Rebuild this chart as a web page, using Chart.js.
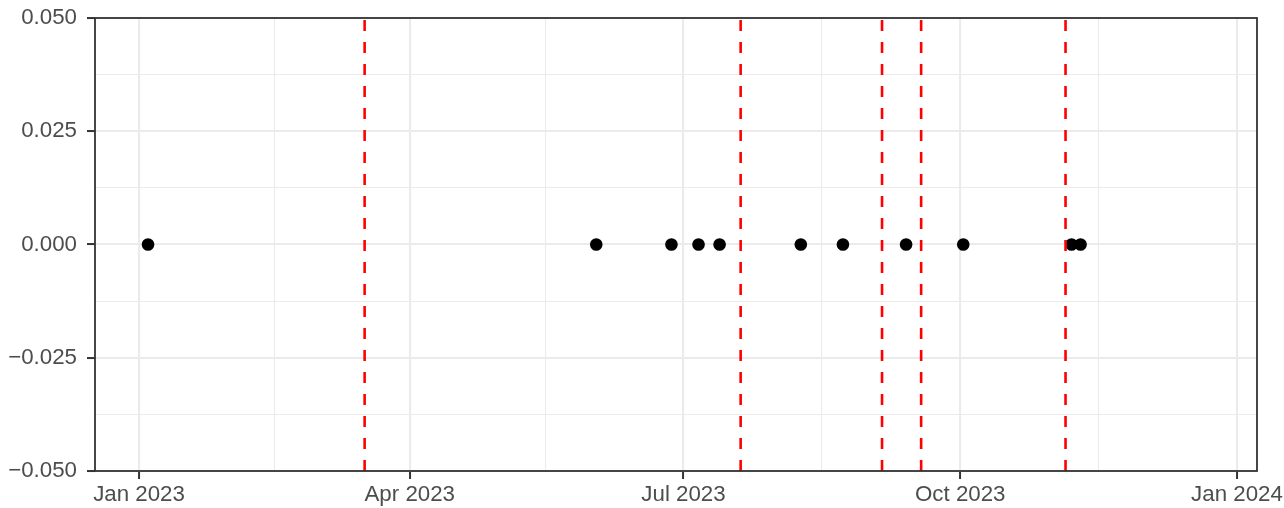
<!DOCTYPE html>
<html>
<head>
<meta charset="utf-8">
<script src="https://cdn.jsdelivr.net/npm/chart.js@4/dist/chart.umd.min.js"></script>
<style>
  html, body { margin: 0; padding: 0; background: #ffffff; }
  #wrap { width: 1284px; height: 508px; position: relative; }
</style>
</head>
<body>
<div id="wrap"><canvas id="c" width="1284" height="508"></canvas></div>
<script>
// ---- data ----
const eventDates = ['2023-01-04','2023-06-02','2023-06-27','2023-07-06','2023-07-13','2023-08-09','2023-08-23','2023-09-13','2023-10-02','2023-11-07','2023-11-10'];
const eventValues = [0, 0, 0, 0, 0, 0, 0, 0, 0, 0, 0];
const changeDates = ['2023-03-17','2023-07-20','2023-09-05','2023-09-18','2023-11-05'];
const xTickDates = ['2023-01-01','2023-04-01','2023-07-01','2023-10-01','2024-01-01'];
const xTickLabels = ['Jan 2023','Apr 2023','Jul 2023','Oct 2023','Jan 2024'];
const xMinorDates = ['2023-02-15','2023-05-16','2023-08-16','2023-11-16'];
const yTicks = [-0.05, -0.025, 0, 0.025, 0.05];
const yTickLabels = ['\u22120.050','\u22120.025','0.000','0.025','0.050'];
const yMinorTicks = [-0.0375, -0.0125, 0.0125, 0.0375];
const xLimits = ['2022-12-17','2024-01-07'];
const yLimits = [-0.05, 0.05];

// ---- helpers ----
const DAY = 86400000;
const ORIGIN = Date.UTC(2023, 0, 1);
function toDay(s) {
  const [y, m, d] = s.split('-').map(Number);
  return (Date.UTC(y, m - 1, d) - ORIGIN) / DAY;
}
const xMajor = xTickDates.map(toDay);
const xMinor = xMinorDates.map(toDay);
const isMajorX = v => xMajor.some(t => Math.abs(t - v) < 1e-6);
const isMajorY = v => yTicks.some(t => Math.abs(t - v) < 1e-9);

const GRID = '#EBEBEB';
const DARK = '#333333';
const TEXT = '#4D4D4D';
const FONT = { family: "'Liberation Sans', Arial, sans-serif", size: 22.3 };

const datasets = [];
changeDates.forEach(d => {
  const x = toDay(d);
  datasets.push({
    type: 'line',
    data: [{ x: x, y: yLimits[0] }, { x: x, y: yLimits[1] }],
    borderColor: '#FF0000',
    borderWidth: 2.6,
    borderDash: [11, 11],
    pointRadius: 0,
    fill: false,
    order: 0
  });
});
datasets.push({
  type: 'scatter',
  data: eventDates.map((d, i) => ({ x: toDay(d), y: eventValues[i] })),
  backgroundColor: '#000000',
  borderColor: '#000000',
  borderWidth: 0,
  pointRadius: 6.3,
  order: 1
});

const panelBorder = {
  id: 'panelBorder',
  afterDraw(chart) {
    const a = chart.chartArea, ctx = chart.ctx;
    ctx.save();
    ctx.strokeStyle = DARK;
    ctx.lineWidth = 1.8;
    ctx.strokeRect(a.left, a.top, a.right - a.left, a.bottom - a.top);
    ctx.restore();
  }
};

new Chart(document.getElementById('c'), {
  type: 'scatter',
  data: { datasets },
  options: {
    responsive: false,
    animation: false,
    layout: { padding: { top: 18, right: 27, left: 0, bottom: 0 } },
    plugins: { legend: { display: false }, tooltip: { enabled: false }, title: { display: false } },
    scales: {
      x: {
        type: 'linear',
        min: toDay(xLimits[0]) + 0.37,
        max: toDay(xLimits[1]) + 0.65,
        afterBuildTicks(scale) {
          scale.ticks = xMajor.concat(xMinor).sort((a, b) => a - b).map(v => ({ value: v }));
        },
        afterFit(scale) {
          scale.height = 37;
          scale.paddingLeft = 0;
          scale.paddingRight = 0;
        },
        ticks: {
          autoSkip: false,
          maxRotation: 0,
          color: TEXT,
          font: FONT,
          padding: 2,
          callback(v) {
            const i = xMajor.findIndex(t => Math.abs(t - v) < 1e-6);
            return i >= 0 ? xTickLabels[i] : '';
          }
        },
        grid: {
          color: ctx => GRID,
          lineWidth: ctx => (ctx.tick && isMajorX(ctx.tick.value)) ? 2.1 : 1.05,
          tickColor: ctx => (ctx.tick && isMajorX(ctx.tick.value)) ? DARK : 'rgba(0,0,0,0)',
          tickWidth: 2,
          tickLength: 8,
          drawTicks: true
        },
        border: { display: false }
      },
      y: {
        type: 'linear',
        min: yLimits[0],
        max: yLimits[1],
        afterBuildTicks(scale) {
          scale.ticks = yTicks.concat(yMinorTicks).sort((a, b) => a - b).map(v => ({ value: v }));
        },
        afterFit(scale) {
          scale.width = 95;
          scale.paddingTop = 0;
          scale.paddingBottom = 0;
        },
        ticks: {
          autoSkip: false,
          color: TEXT,
          font: FONT,
          padding: 10,
          callback(v) {
            const i = yTicks.findIndex(t => Math.abs(t - v) < 1e-9);
            return i >= 0 ? yTickLabels[i] : '';
          }
        },
        grid: {
          color: ctx => GRID,
          lineWidth: ctx => (ctx.tick && isMajorY(ctx.tick.value)) ? 2.1 : 1.05,
          tickColor: ctx => (ctx.tick && isMajorY(ctx.tick.value)) ? DARK : 'rgba(0,0,0,0)',
          tickWidth: 2,
          tickLength: 8,
          drawTicks: true
        },
        border: { display: false }
      }
    }
  },
  plugins: [panelBorder]
});
</script>
</body>
</html>
